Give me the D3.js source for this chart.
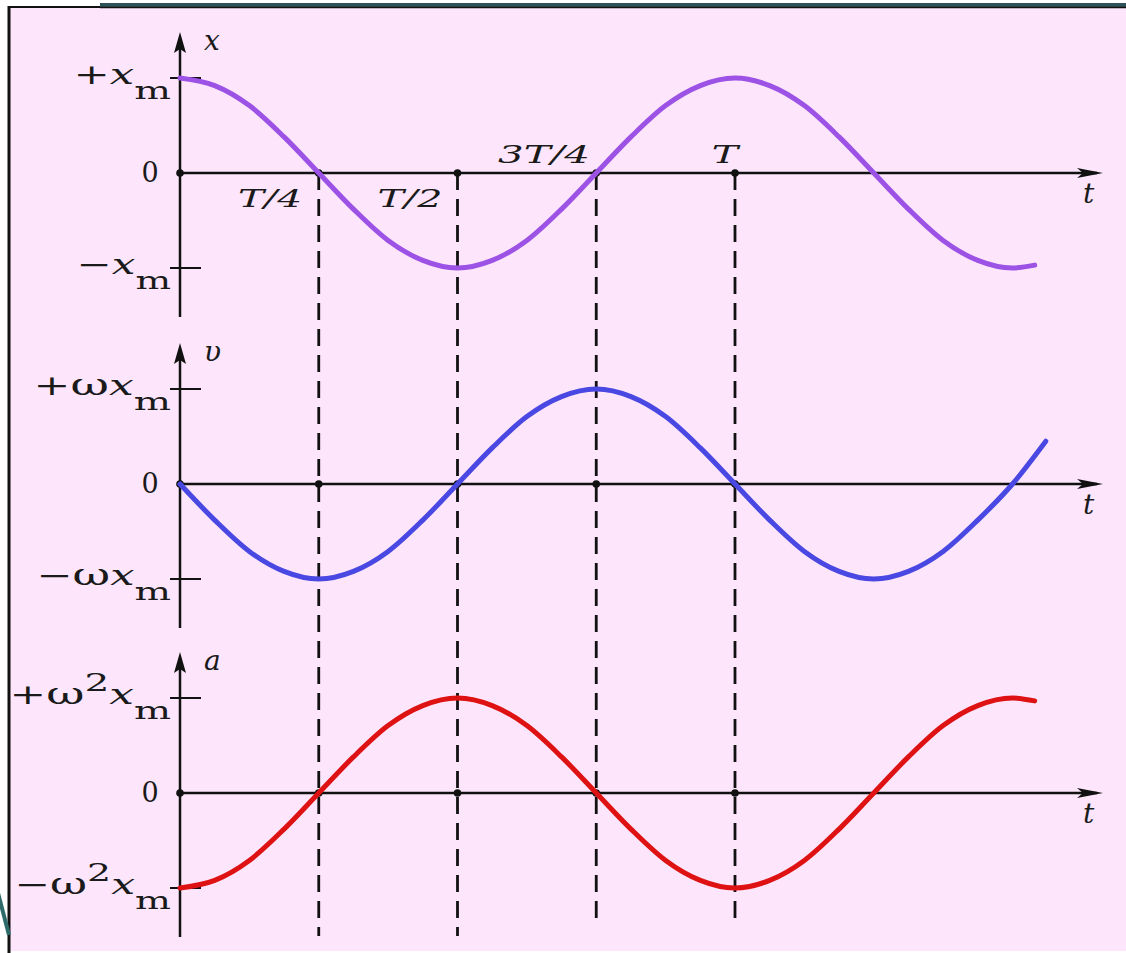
<!DOCTYPE html>
<html>
<head>
<meta charset="utf-8">
<script src="https://cdn.jsdelivr.net/npm/d3@7"></script>
<style>
  body { margin: 0; background: #fff; }
  svg { display: block; }
  text { font-family: "DejaVu Serif", "Liberation Serif", serif; fill: #1a1a1a; }
</style>
</head>
<body>
<div id="chart"></div>
<script>
// Sample points, t in periods (T), every T/16
const phase = d3.range(25).map(k => k / 16);

const dispT = [...phase, 1.54];
const dispV = [1, 0.92, 0.71, 0.38, 0, -0.38, -0.71, -0.92, -1, -0.92, -0.71, -0.38, 0,
               0.38, 0.71, 0.92, 1, 0.92, 0.71, 0.38, 0, -0.38, -0.71, -0.92, -1, -0.97];

const velT = [...phase, 1.56];
const velV = [0, -0.38, -0.71, -0.92, -1, -0.92, -0.71, -0.38, 0, 0.38, 0.71, 0.92, 1,
              0.92, 0.71, 0.38, 0, -0.38, -0.71, -0.92, -1, -0.92, -0.71, -0.38, 0, 0.45];

const accT = [...phase, 1.54];
const accV = [-1, -0.92, -0.71, -0.38, 0, 0.38, 0.71, 0.92, 1, 0.92, 0.71, 0.38, 0,
              -0.38, -0.71, -0.92, -1, -0.92, -0.71, -0.38, 0, 0.38, 0.71, 0.92, 1, 0.97];

const quarterTicks = [0.25, 0.5, 0.75, 1];
const quarterLabels = ["T/4", "T/2", "3T/4", "T"];

const panels = [
  {name: "x", omega: 0, t: dispT, v: dispV, color: "#9d52e6", zero: 173},
  {name: "υ", omega: 1, t: velT, v: velV, color: "#4a48e2", zero: 484},
  {name: "a", omega: 2, t: accT, v: accV, color: "#de1212", zero: 793}
];

const W = 1126, H = 953;
const amp = 95;

const svg = d3.select("#chart")
  .append("svg")
  .attr("width", W)
  .attr("height", H);

// stretch a text group horizontally to a given width (the source font is wide)
function fitWidth(g, px, py, target) {
  const w = g.node().getBBox().width;
  g.attr("transform", `translate(${px},${py}) scale(${target / w},1)`);
}

// slide background + frame
svg.append("rect")
  .attr("x", 9).attr("y", 7)
  .attr("width", W - 9).attr("height", H - 9)
  .attr("fill", "#fde6fb");
svg.append("line")
  .attr("x1", 9).attr("y1", 6).attr("x2", 9).attr("y2", H)
  .attr("stroke", "#111").attr("stroke-width", 3);
svg.append("line")
  .attr("x1", 8).attr("y1", 7).attr("x2", 102).attr("y2", 7)
  .attr("stroke", "#111").attr("stroke-width", 2);
svg.append("line")
  .attr("x1", 100).attr("y1", 5).attr("x2", W).attr("y2", 5)
  .attr("stroke", "#2d5158").attr("stroke-width", 4);
svg.append("line")
  .attr("x1", 100).attr("y1", 7.5).attr("x2", W).attr("y2", 7.5)
  .attr("stroke", "#111").attr("stroke-width", 1.5);
svg.append("line")
  .attr("x1", -2).attr("y1", 893).attr("x2", 9).attr("y2", 935)
  .attr("stroke", "#2d6a6a").attr("stroke-width", 4);

const x = d3.scaleLinear()
  .domain([0, 1])
  .range([180, 735]);

const x0 = x(0);
const xEnd = 1103;

// vertical dashed guides
svg.selectAll(".guide")
  .data(quarterTicks)
  .enter().append("line")
  .attr("class", "guide")
  .attr("x1", d => x(d)).attr("x2", d => x(d))
  .attr("y1", panels[0].zero)
  .attr("y2", (d, i) => i < 2 ? 936 : 924)
  .attr("stroke", "#111")
  .attr("stroke-width", 2.8)
  .attr("stroke-dasharray", "17,9");

panels.forEach(p => {
  const y = d3.scaleLinear()
    .domain([-1, 1])
    .range([p.zero + amp, p.zero - amp]);

  const g = svg.append("g");
  const top = y(0) - 141, bottom = y(0) + 144;

  // y axis with arrow
  g.append("line")
    .attr("x1", x0).attr("x2", x0)
    .attr("y1", top + 6).attr("y2", bottom)
    .attr("stroke", "#111").attr("stroke-width", 2.5);
  g.append("path")
    .attr("d", `M${x0},${top} L${x0 + 6},${top + 21} L${x0},${top + 17} L${x0 - 6},${top + 21} Z`)
    .attr("fill", "#111");

  // t axis with arrow
  g.append("line")
    .attr("x1", x0).attr("x2", xEnd - 6)
    .attr("y1", y(0)).attr("y2", y(0))
    .attr("stroke", "#111").attr("stroke-width", 2.5);
  g.append("path")
    .attr("d", `M${xEnd},${y(0)} L${xEnd - 26},${y(0) - 5} L${xEnd - 20},${y(0)} L${xEnd - 26},${y(0) + 5} Z`)
    .attr("fill", "#111");

  // amplitude ticks
  g.selectAll(".amp")
    .data([1, -1])
    .enter().append("line")
    .attr("x1", 170).attr("x2", 201)
    .attr("y1", d => y(d)).attr("y2", d => y(d))
    .attr("stroke", "#111").attr("stroke-width", 2);

  // dots on the t axis
  g.selectAll(".dot")
    .data([0, ...quarterTicks])
    .enter().append("circle")
    .attr("cx", d => x(d))
    .attr("cy", y(0))
    .attr("r", 3.8)
    .attr("fill", "#111");

  // zero label
  g.append("text")
    .attr("x", 150).attr("y", y(0) + 9)
    .attr("text-anchor", "middle")
    .attr("font-size", 27)
    .text("0");

  // amplitude labels
  [1, -1].forEach(s => {
    const lg = g.append("g");
    const t = lg.append("text")
      .attr("x", 0)
      .attr("y", 0)
      .attr("text-anchor", "end")
      .attr("font-size", 28);
    t.append("tspan").text(s > 0 ? "+" : "−");
    if (p.omega > 0) t.append("tspan").attr("font-size", 30).text("ω");
    let dy = 0;
    if (p.omega === 2) {
      t.append("tspan").attr("dy", -13).attr("font-size", 25).text("2");
      dy = 13;
    }
    t.append("tspan").attr("dy", dy).attr("font-style", "italic").text("x");
    t.append("tspan").attr("dy", 15).attr("font-size", 25).text("m");
    const target = (s > 0 ? [98, 138, 162] : [95, 135, 157])[p.omega];
    fitWidth(lg, 171, y(s) + 6, target);
  });

  // axis name
  g.append("text")
    .attr("x", 204).attr("y", top + 18)
    .attr("font-size", 28)
    .attr("font-style", "italic")
    .text(p.name);

  g.append("text")
    .attr("x", 1083).attr("y", y(0) + 30)
    .attr("font-size", 28)
    .attr("font-style", "italic")
    .text("t");

  // curve
  const line = d3.line()
    .x(d => x(d[0]))
    .y(d => y(d[1]))
    .curve(d3.curveMonotoneX);

  g.append("path")
    .datum(p.t.map((t, i) => [t, p.v[i]]))
    .attr("d", line)
    .attr("fill", "none")
    .attr("stroke", p.color)
    .attr("stroke-width", 5)
    .attr("stroke-linecap", "round");
});

// quarter-period labels on the top panel
const qCenter = [270, 410, 544, 725];
const qWidth = [64, 65, 92, 30];
quarterTicks.forEach((d, i) => {
  const lg = svg.append("g");
  lg.append("text")
    .attr("x", 0).attr("y", 0)
    .attr("text-anchor", "middle")
    .attr("font-size", 25)
    .attr("font-style", "italic")
    .text(quarterLabels[i]);
  fitWidth(lg, qCenter[i], i < 2 ? panels[0].zero + 34 : panels[0].zero - 10, qWidth[i]);
});
</script>
</body>
</html>
